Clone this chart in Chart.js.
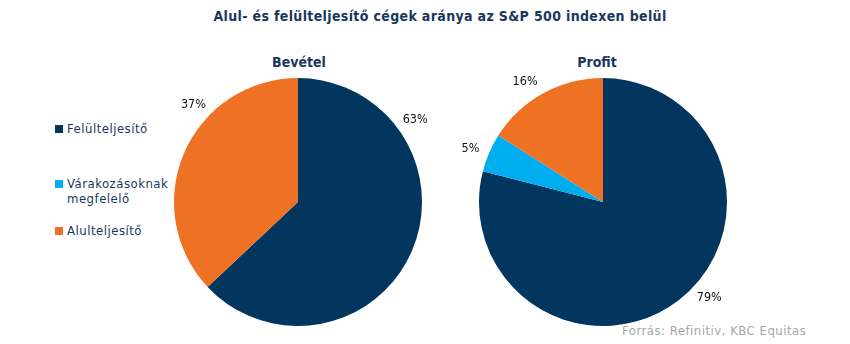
<!DOCTYPE html>
<html>
<head>
<meta charset="utf-8">
<script src="https://cdn.jsdelivr.net/npm/chart.js@4"></script>
<style>
  body { margin: 0; width: 850px; height: 344px; background: #fff; position: relative; overflow: hidden;
         font-family: "DejaVu Sans Condensed", "DejaVu Sans", sans-serif; }
  .title { position: absolute; left: 0; width: 880px; top: 8px; text-align: center;
           font-weight: bold; font-size: 14px; letter-spacing: 0.35px; color: #17375e; }
  .sub { position: absolute; top: 54px; width: 200px; text-align: center;
         font-weight: bold; font-size: 14px; color: #17375e; }
  .legend { position: absolute; left: 55px; top: 0; font-size: 13px; letter-spacing: 0.5px; color: #17375e; }
  .legend div { position: absolute; white-space: nowrap; line-height: 15px; padding-left: 12px; }
  .legend span.box { position: absolute; left: 0; top: 4px; width: 8px; height: 8px; }
  .source { position: absolute; left: 622px; top: 323px; font-size: 13px; letter-spacing: 0.5px; color: #a6a6a6; white-space: nowrap; }
  canvas { position: absolute; }
</style>
</head>
<body>
<div class="title">Alul- és felülteljesítő cégek aránya az S&amp;P 500 indexen belül</div>
<div class="sub" style="left:199px">Bevétel</div>
<div class="sub" style="left:497px">Profit</div>
<div class="legend" id="legend"></div>
<div class="source">Forrás: Refinitiv, KBC Equitas</div>
<div id="left" style="position:absolute;left:138px;top:60px;width:320px;height:284px"><canvas id="c1"></canvas></div>
<div id="right" style="position:absolute;left:443px;top:60px;width:320px;height:284px"><canvas id="c2"></canvas></div>
<script>
// data
const categories = ['Felülteljesítő', 'Várakozásoknak megfelelő', 'Alulteljesítő'];
const revenue = [63, 0, 37];
const profit = [79, 5, 16];
const colors = ['#02365f', '#00aeef', '#ef7124'];

// where Excel put each label (degrees clockwise from top), by slice
const revenueLabelAngles = [55, null, 313];
const profitLabelAngles = [132, 292, 327];

// legend rows, the middle one wraps in two lines
const legendTops = [121, 176, 223];
const legendEl = document.getElementById('legend');
categories.forEach((c, i) => {
    const row = document.createElement('div');
    row.style.top = legendTops[i] + 'px';
    const parts = c.split(' ');
    const text = parts.length > 1 ? parts[0] + '<br>' + parts.slice(1).join(' ') : c;
    row.innerHTML = `<span class="box" style="background:${colors[i]}"></span>${text}`;
    legendEl.append(row);
});

// draws the percentage labels outside the pie
const outsideLabels = {
    id: 'outsideLabels',
    afterDatasetsDraw(chart, args, opts) {
        const ctx = chart.ctx;
        const meta = chart.getDatasetMeta(0);
        const values = chart.data.datasets[0].data;
        ctx.save();
        ctx.font = '12.5px "DejaVu Sans Condensed", "DejaVu Sans", sans-serif';
        ctx.fillStyle = '#111';
        ctx.textAlign = 'center';
        ctx.textBaseline = 'middle';
        meta.data.forEach((arc, i) => {
            const a = opts.angles[i];
            if (a == null || !values[i]) return;
            const rad = (a - 90) * Math.PI / 180;
            const r = arc.outerRadius + opts.offset;
            ctx.fillText(values[i] + '%', arc.x + Math.cos(rad) * r, arc.y + Math.sin(rad) * r);
        });
        ctx.restore();
    }
};

function makePie(canvasId, values, angles) {
    return new Chart(document.getElementById(canvasId), {
        type: 'pie',
        data: {
            labels: categories,
            datasets: [{
                data: values,
                backgroundColor: colors,
                borderWidth: 0
            }]
        },
        options: {
            animation: false,
            responsive: true,
            maintainAspectRatio: false,
            layout: { padding: 18 },
            plugins: {
                legend: { display: false },
                tooltip: { enabled: false },
                outsideLabels: { angles: angles, offset: 19 }
            }
        },
        plugins: [outsideLabels]
    });
}

makePie('c1', revenue, revenueLabelAngles);
makePie('c2', profit, profitLabelAngles);
</script>
</body>
</html>
